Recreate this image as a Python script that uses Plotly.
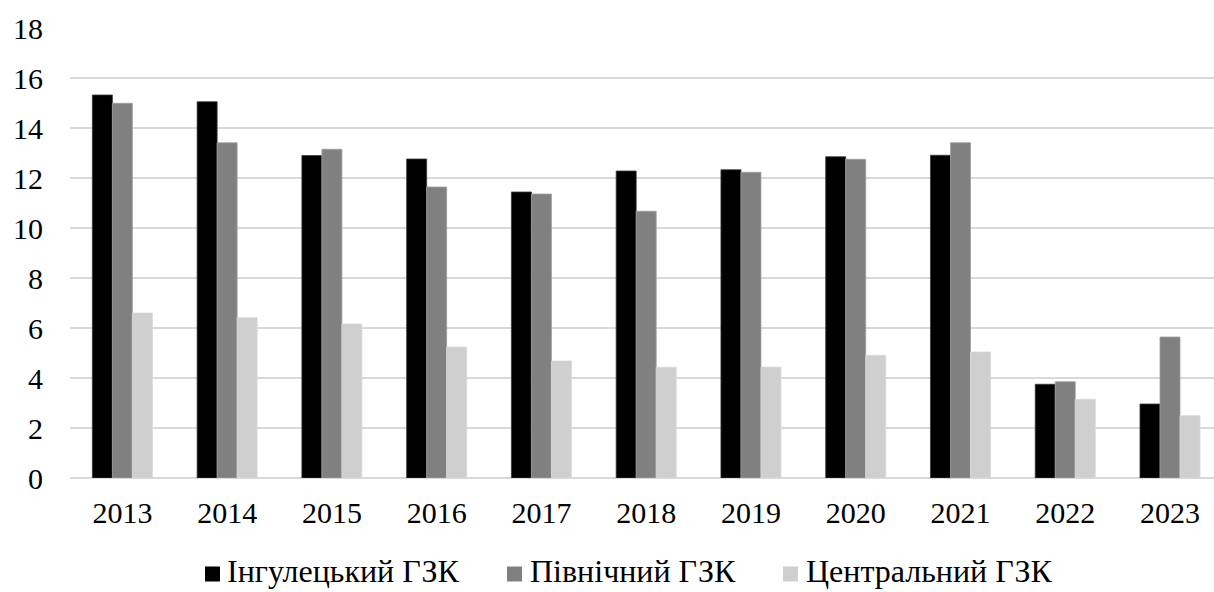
import plotly.graph_objects as go

# Annual values by plant
years = ["2013", "2014", "2015", "2016", "2017", "2018", "2019", "2020", "2021", "2022", "2023"]
ingulets = [15.32, 15.05, 12.90, 12.76, 11.44, 12.28, 12.33, 12.85, 12.91, 3.75, 2.96]
pivnichnyi = [14.99, 13.41, 13.15, 11.64, 11.36, 10.67, 12.23, 12.75, 13.41, 3.85, 5.64]
tsentralnyi = [6.60, 6.41, 6.16, 5.24, 4.68, 4.43, 4.44, 4.91, 5.04, 3.15, 2.49]

series_names = ["Інгулецький ГЗК", "Північний ГЗК", "Центральний ГЗК"]
series_colors = ["#000000", "#808080", "#D0CFD0"]
edge_colors = ["#3a3a3a", "#a0a0a0", "#d8d8d8"]
y_ticks = [0, 2, 4, 6, 8, 10, 12, 14, 16, 18]

FONT = "Liberation Serif"
W, H = 1214, 592
ML, MR, MT, MB = 70, 0, 28, 114
plot_w = W - ML - MR
plot_h = H - MT - MB
tick_font = dict(family=FONT, size=30, color="#000000")

fig = go.Figure()
for name, vals, color, edge in zip(series_names, [ingulets, pivnichnyi, tsentralnyi],
                                   series_colors, edge_colors):
    fig.add_trace(go.Bar(
        x=years, y=vals, name=name, showlegend=False,
        marker=dict(color=color, line=dict(color=edge, width=0.8)),
    ))

# Legend row under the chart: swatch + label per series
legend_px = [(205, 225), (507, 528), (783, 804)]
sw = 15
sw_mid = 574
for (sx, tx), name, color in zip(legend_px, series_names, series_colors):
    fig.add_shape(
        type="rect", xref="paper", yref="paper",
        x0=(sx - ML) / plot_w, x1=(sx + sw - ML) / plot_w,
        y0=(H - MB - (sw_mid + sw / 2)) / plot_h,
        y1=(H - MB - (sw_mid - sw / 2)) / plot_h,
        fillcolor=color, line=dict(width=0),
    )
    fig.add_annotation(
        x=(tx - ML) / plot_w, xref="paper",
        y=(H - MB - 591) / plot_h, yref="paper",
        xanchor="left", yanchor="bottom",
        text=name, showarrow=False,
        font=dict(family=FONT, size=32, color="#000000"),
    )

fig.update_layout(
    template="none",
    width=W, height=H,
    margin=dict(l=ML, r=MR, t=MT, b=MB, autoexpand=False),
    paper_bgcolor="white", plot_bgcolor="white",
    barmode="group", bargap=0.427, bargroupgap=0,
    font=dict(family=FONT, size=30, color="#000000"),
    showlegend=False,
    xaxis=dict(
        type="category", range=[-0.5, 10.42],
        showgrid=False, showline=False, zeroline=False,
        ticks="", ticklabelstandoff=14, tickfont=tick_font,
    ),
    yaxis=dict(
        range=[0, 18], tickvals=y_ticks,
        showgrid=True, gridcolor="#D9D9D9", gridwidth=1.5,
        zeroline=True, zerolinecolor="#D9D9D9", zerolinewidth=1.5,
        showline=False, ticks="", ticklabelstandoff=26, tickfont=tick_font,
    ),
)

fig.write_html("out.html")
